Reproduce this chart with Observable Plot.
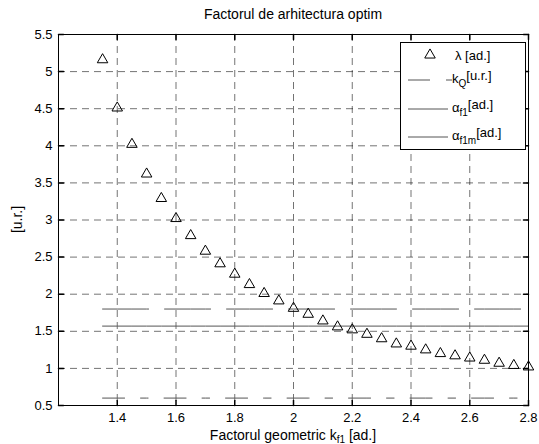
<!DOCTYPE html>
<html><head><meta charset="utf-8">
<script src="https://cdn.jsdelivr.net/npm/d3@7"></script>
<script src="https://cdn.jsdelivr.net/npm/@observablehq/plot@0.6"></script>
<style>body{margin:0;background:#fff} svg{display:block}</style>
</head><body><div id="chart"></div>
<script>
const title = "Factorul de arhitectura optim";
const kf1 = [1.35,1.40,1.45,1.50,1.55,1.60,1.65,1.70,1.75,1.80,1.85,1.90,1.95,2.00,2.05,2.10,2.15,2.20,2.25,2.30,2.35,2.40,2.45,2.50,2.55,2.60,2.65,2.70,2.75,2.80];
const lambda = [5.16,4.51,4.02,3.62,3.29,3.02,2.79,2.58,2.41,2.27,2.13,2.01,1.91,1.81,1.73,1.64,1.56,1.52,1.46,1.40,1.33,1.30,1.25,1.20,1.17,1.14,1.11,1.07,1.04,1.02];
const kQ = 0.6;
const alphaF1 = 1.8;
const alphaF1m = 1.57;
const xTicks = [1.4,1.6,1.8,2.0,2.2,2.4,2.6,2.8];
const yTicks = [0.5,1,1.5,2,2.5,3,3.5,4,4.5,5,5.5];
const xDomain = [1.2, 2.8];
const yDomain = [0.5, 5.5];

const rows = kf1.map((x, i) => ({x, lambda: lambda[i], kQ, alphaF1, alphaF1m}));
const font = "Liberation Sans, Arial, sans-serif";
const tickShape = {draw(ctx, l) { ctx.moveTo(0, 0); ctx.lineTo(0, -l); }};
const gridStyle = {stroke: "#000", strokeOpacity: 0.55, strokeDasharray: "7,5"};
const lineColor = "#555";

const plot = Plot.plot({
  width: 539, height: 444,
  marginLeft: 58, marginRight: 11, marginTop: 34, marginBottom: 39,
  style: {fontFamily: font, fontSize: "13px", background: "#fff", color: "#000"},
  x: {domain: xDomain},
  y: {domain: yDomain},
  marks: [
    Plot.gridX(xTicks, gridStyle),
    Plot.gridY(yTicks, gridStyle),
    Plot.lineY(rows, {x: "x", y: "kQ", stroke: lineColor, strokeWidth: 1, strokeDasharray: "22,16,7.5,16"}),
    Plot.lineY(rows, {x: "x", y: "alphaF1", stroke: lineColor, strokeWidth: 1, strokeDasharray: "46,16"}),
    Plot.lineY(rows, {x: "x", y: "alphaF1m", stroke: lineColor, strokeWidth: 1}),
    Plot.dot(rows, {x: "x", y: "lambda", symbol: "triangle", r: 3.9, stroke: "#000", fill: "none", strokeWidth: 1}),
    Plot.vector(xTicks, {x: d => d, y: () => yDomain[0], rotate: 0, length: 5, anchor: "start", shape: tickShape, stroke: "#000"}),
    Plot.vector(xTicks, {x: d => d, y: () => yDomain[1], rotate: 180, length: 5, anchor: "start", shape: tickShape, stroke: "#000"}),
    Plot.vector(yTicks, {y: d => d, x: () => xDomain[0], rotate: 90, length: 5, anchor: "start", shape: tickShape, stroke: "#000"}),
    Plot.vector(yTicks, {y: d => d, x: () => xDomain[1], rotate: 270, length: 5, anchor: "start", shape: tickShape, stroke: "#000"}),
    Plot.frame({stroke: "#000"}),
    Plot.axisX(xTicks, {tickSize: 0, tickPadding: 7, label: null, tickFormat: d => String(d)}),
    Plot.axisY(yTicks, {tickSize: 0, tickPadding: 6, label: null, tickFormat: d => String(d)})
  ]
});
document.getElementById("chart").appendChild(plot);

const svg = d3.select(plot);
const sx = plot.scale("x"), sy = plot.scale("y");
const cx = (sx.range[0] + sx.range[1]) / 2;
const cy = (sy.range[0] + sy.range[1]) / 2;

svg.append("text").attr("x", cx).attr("y", 19).attr("text-anchor", "middle")
  .attr("font-family", font).attr("font-size", 14).text(title);

const xl = svg.append("text").attr("x", cx).attr("y", 440).attr("text-anchor", "middle")
  .attr("font-family", font).attr("font-size", 14);
xl.append("tspan").text("Factorul geometric k");
xl.append("tspan").attr("font-size", 10).attr("dy", 3).text("f1");
xl.append("tspan").attr("dy", -3).text(" [ad.]");

svg.append("text").attr("transform", `translate(22,${cy}) rotate(-90)`).attr("text-anchor", "middle")
  .attr("font-family", font).attr("font-size", 14).text("[u.r.]");

// legend
const lg = svg.append("g").attr("font-family", font).attr("font-size", 13).attr("text-anchor", "start");
lg.append("rect").attr("x", 400.5).attr("y", 42.5).attr("width", 125).attr("height", 107)
  .attr("fill", "#fff").attr("stroke", "#000");
lg.append("path").attr("d", d3.symbol(d3.symbolTriangle, Math.PI * 3.9 * 3.9)()).attr("transform", "translate(430,55)")
  .attr("fill", "none").attr("stroke", "#000");
lg.append("text").attr("x", 455).attr("y", 60).text("λ [ad.]");
const legendLines = [
  {y: 80, dash: "22,16,7.5,16", x2: 452, sub: "Q", main: "k", tail: "[u.r.]", tx: 452},
  {y: 109, dash: "46,16", x2: 448, sub: "f1", main: "α", tail: "[ad.]", tx: 452},
  {y: 137, dash: null, x2: 448, sub: "f1m", main: "α", tail: "[ad.]", tx: 452}
];
for (const e of legendLines) {
  const p = lg.append("line").attr("x1", 408).attr("x2", e.x2).attr("y1", e.y).attr("y2", e.y)
    .attr("stroke", lineColor);
  if (e.dash) p.attr("stroke-dasharray", e.dash);
  const t = lg.append("text").attr("x", e.tx).attr("y", e.y + 3);
  t.append("tspan").text(e.main);
  t.append("tspan").attr("font-size", 10).attr("dy", 4).text(e.sub);
  t.append("tspan").attr("dy", -7).text(e.tail);
}
</script></body></html>
